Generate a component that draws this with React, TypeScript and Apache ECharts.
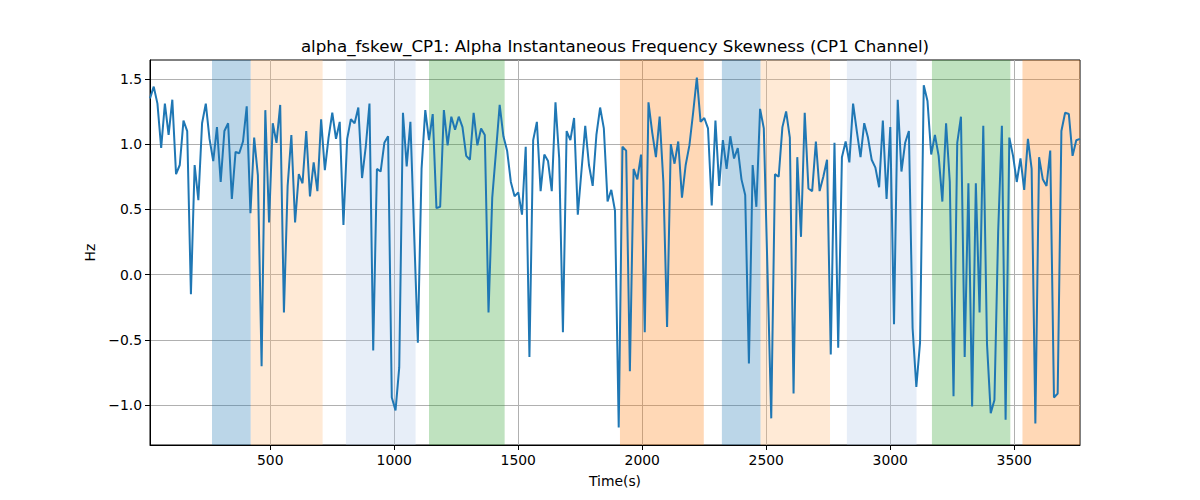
import React, { useEffect, useRef } from 'react';
import * as echarts from 'echarts';

// sampling of the signal (s)
const sampleStart = 15;
const sampleStep = 15;

// alpha instantaneous frequency skewness, CP1 channel (Hz)
const skewness = [
  1.35, 1.44, 1.31, 0.97, 1.31, 1.07, 1.34, 0.77, 0.84, 1.18,
  1.10, -0.15, 0.84, 0.57, 1.16, 1.31, 1.04, 0.87, 1.13, 0.71,
  1.10, 1.16, 0.58, 0.94, 0.93, 1.02, 1.29, 0.47, 1.05, 0.76,
  -0.70, 1.26, 0.40, 1.16, 1.01, 1.30, -0.29, 0.68, 1.07, 0.40,
  0.77, 0.70, 1.10, 0.60, 0.86, 0.64, 1.19, 0.80, 1.05, 1.24,
  1.04, 1.17, 0.38, 1.04, 1.19, 1.16, 1.28, 0.74, 0.98, 1.31,
  -0.58, 0.81, 0.79, 1.01, 1.06, -0.94, -1.04, -0.71, 1.24, 0.83,
  1.17, 0.32, -0.52, 0.81, 1.26, 1.03, 1.23, 0.51, 0.52, 1.26,
  0.99, 1.21, 1.11, 1.21, 1.13, 0.91, 0.88, 1.24, 0.99, 1.12,
  1.07, -0.29, 0.59, 0.94, 1.30, 1.06, 0.95, 0.71, 0.60, 0.63,
  0.46, 0.98, -0.63, 1.03, 1.17, 0.64, 0.92, 0.87, 0.64, 1.32,
  0.89, -0.44, 1.10, 1.03, 1.20, 0.46, 0.80, 1.14, 0.84, 0.68,
  1.07, 1.28, 1.12, 0.56, 0.65, 0.49, -1.17, 0.98, 0.95, -0.74,
  0.81, 0.73, 0.92, -0.44, 1.32, 1.09, 0.90, 1.21, 0.71, -0.40,
  1.00, 0.85, 1.02, 0.59, 0.84, 0.99, 1.24, 1.51, 1.17, 1.20,
  1.12, 0.53, 1.18, 0.68, 1.03, 0.81, 1.06, 0.89, 0.97, 0.73,
  0.61, -0.68, 0.84, 0.52, 1.27, 1.12, 0.02, -1.10, 0.77, 0.75,
  1.13, 1.25, 1.05, -0.91, 0.90, 0.29, 1.24, 0.66, 0.64, 1.02,
  0.64, 0.75, 0.88, -0.61, 1.01, -0.56, 0.90, 1.02, 0.86, 1.31,
  1.10, 0.90, 1.16, 1.05, 0.88, 0.82, 0.67, 1.18, 0.58, 1.13,
  -0.38, 1.34, 0.79, 1.01, 1.10, -0.41, -0.86, -0.52, 1.45, 1.33,
  0.92, 1.07, 0.91, 0.56, 1.16, 0.71, -0.93, 1.01, 1.21, -0.63,
  0.70, -1.01, 0.70, -0.29, 1.14, -0.53, -1.06, -0.96, 0.33, 1.14,
  -1.11, 1.05, 0.91, 0.71, 0.89, 0.65, 1.04, 0.81, -1.14, 0.90,
  0.73, 0.68, 0.95, -0.94, -0.91, 1.10, 1.24, 1.23, 0.91, 1.03,
  1.04,
];

// shaded segments
const spanStarts = [265, 421, 805, 1140, 1910, 2321, 2477, 2825, 3168, 3533];
const spanEnds = [421, 711, 1086, 1445, 2248, 2477, 2757, 3106, 3484, 3765];
const spanColors = [
  'rgba(31,119,180,0.3)',
  'rgba(255,187,120,0.3)',
  'rgba(174,199,232,0.3)',
  'rgba(44,160,44,0.3)',
  'rgba(255,127,14,0.3)',
  'rgba(31,119,180,0.3)',
  'rgba(255,187,120,0.3)',
  'rgba(174,199,232,0.3)',
  'rgba(44,160,44,0.3)',
  'rgba(255,127,14,0.3)',
];

const xTicks = [500, 1000, 1500, 2000, 2500, 3000, 3500];
const yTicks = [-1.0, -0.5, 0.0, 0.5, 1.0, 1.5];

const FONT = 'DejaVu Sans';

const App: React.FC = () => {
  const chartRef = useRef<HTMLDivElement>(null);

  useEffect(() => {
    document.body.style.margin = '0';
    if (!chartRef.current) return;
    const chart = echarts.init(chartRef.current, null, { renderer: 'svg' });

    const points = skewness.map((v, i) => [sampleStart + i * sampleStep, v]);
    const lastTime = sampleStart + (skewness.length - 1) * sampleStep;

    const tickLabel = { fontFamily: FONT, fontSize: 13.9, color: '#000' };

    const option = {
      animation: false,
      graphic: [
        {
          type: 'text',
          x: 615,
          y: 46,
          style: {
            text: 'alpha_fskew_CP1: Alpha Instantaneous Frequency Skewness (CP1 Channel)',
            fontFamily: FONT,
            fontSize: 16.7,
            fill: '#000',
            textAlign: 'center',
            textVerticalAlign: 'middle',
          },
        },
      ],
      grid: {
        left: 150,
        right: 120,
        top: 60,
        bottom: 55,
        show: true,
        borderColor: '#000',
        borderWidth: 1,
        backgroundColor: 'transparent',
      },
      xAxis: {
        type: 'value',
        z: 1,
        min: sampleStart,
        max: lastTime,
        name: 'Time(s)',
        nameLocation: 'middle',
        nameGap: 29,
        nameTextStyle: tickLabel,
        axisLine: { show: true, onZero: false, lineStyle: { color: '#000', width: 1 } },
        axisTick: {
          show: true,
          length: 5,
          customValues: xTicks,
          lineStyle: { color: '#000', width: 1 },
        },
        axisLabel: {
          ...tickLabel,
          customValues: xTicks,
          margin: 8,
          formatter: (v: number) => String(v),
        },
        splitLine: { show: true, lineStyle: { color: '#b0b0b0', width: 1 } },
      },
      yAxis: {
        type: 'value',
        z: 1,
        min: -1.304,
        max: 1.644,
        name: 'Hz',
        nameLocation: 'middle',
        nameGap: 52,
        nameTextStyle: tickLabel,
        axisLine: { show: true, onZero: false, lineStyle: { color: '#000', width: 1 } },
        axisTick: {
          show: true,
          length: 5,
          customValues: yTicks,
          lineStyle: { color: '#000', width: 1 },
        },
        axisLabel: {
          ...tickLabel,
          customValues: yTicks,
          margin: 8,
          formatter: (v: number) => v.toFixed(1).replace('-', '\u2212'),
        },
        splitLine: { show: true, lineStyle: { color: '#b0b0b0', width: 1 } },
      },
      series: [
        {
          // shaded spans, kept under the grid lines
          type: 'line',
          z: 0,
          data: [],
          markArea: {
            silent: true,
            data: spanStarts.map((s, i) => [
              { xAxis: s, itemStyle: { color: spanColors[i] } },
              { xAxis: spanEnds[i] },
            ]),
          },
        },
        {
          type: 'line',
          z: 2,
          data: points,
          showSymbol: false,
          symbol: 'none',
          lineStyle: { color: '#1f77b4', width: 2 },
        },
      ],
    };

    chart.setOption(option);
    return () => {
      chart.dispose();
    };
  }, []);

  return <div ref={chartRef} style={{ width: 1200, height: 500 }} />;
};

export default App;
